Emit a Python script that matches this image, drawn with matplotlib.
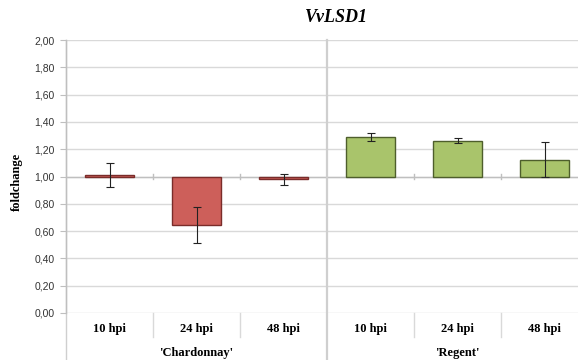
import matplotlib
matplotlib.use("Agg")
import matplotlib.pyplot as plt
from matplotlib.transforms import blended_transform_factory

# data
timepoints = ["10 hpi", "24 hpi", "48 hpi"]
cultivars = ["'Chardonnay'", "'Regent'"]
chardonnay = [1.01, 0.645, 0.98]
chardonnay_err = [0.09, 0.13, 0.04]
regent = [1.29, 1.263, 1.124]
regent_err = [0.03, 0.02, 0.13]
yticks = [0.0, 0.2, 0.4, 0.6, 0.8, 1.0, 1.2, 1.4, 1.6, 1.8, 2.0]

W, H = 578, 360
fig = plt.figure(figsize=(W / 100, H / 100), dpi=100)
# axis spans past the right border, the original is cropped there
x0, x1, ybot, ytop = 66, 588, 313, 40
ax = fig.add_axes([x0 / W, 1 - ybot / H, (x1 - x0) / W, (ybot - ytop) / H])

grid = "#d9d9d9"
for yv in yticks:
    ax.axhline(yv, color=grid, lw=1.0, zorder=0)

values = chardonnay + regent
errors = chardonnay_err + regent_err
xs = [i + 0.5 for i in range(len(values))]
fills = ["#cd5f5a"] * 3 + ["#a9c46b"] * 3
edges = ["#7a2c2a"] * 3 + ["#4e5e2c"] * 3
heights = [v - 1.0 for v in values]
ax.bar(xs, heights, bottom=1.0, width=0.56, color=fills, edgecolor=edges,
       linewidth=1.0, zorder=2)
ax.errorbar(xs, values, yerr=errors, fmt="none", ecolor="#222222",
            elinewidth=0.8, capsize=3, capthick=0.8, zorder=3)

# horizontal axis crosses at 1.0, with small tick marks
ax.axhline(1.0, color="#bfbfbf", lw=1.0, zorder=1)
for xt in [1, 2, 4, 5]:
    ax.plot([xt, xt], [0.985, 1.015], color="#bfbfbf", lw=1.0, zorder=1)

ax.set_xlim(0, 6)
ax.set_ylim(0, 2.0)
ax.set_yticks(yticks)
ax.set_yticklabels([("%.2f" % v).replace(".", ",") for v in yticks],
                   fontsize=7.5, family="Liberation Sans", color="#333333")
ax.tick_params(axis="y", length=4, color="#bfbfbf", pad=4)
ax.set_xticks([])
for s in ["top", "right", "bottom"]:
    ax.spines[s].set_visible(False)
ax.spines["left"].set_color("#bfbfbf")
ax.spines["left"].set_linewidth(1.0)

# category table below the axis
trans = blended_transform_factory(ax.transData, fig.transFigure)
for i, x in enumerate(xs):
    ax.text(x, 1 - 329 / H, timepoints[i % 3], transform=trans, ha="center",
            va="center", fontsize=9, fontweight="bold", family="Liberation Serif")
for j, name in enumerate(cultivars):
    ax.text(1.5 + 3 * j, 1 - 353 / H, name, transform=trans, ha="center",
            va="center", fontsize=9, fontweight="bold", family="Liberation Serif")
for xt in [1, 2, 4, 5]:
    ax.plot([xt, xt], [1 - ybot / H, 1 - 337 / H], transform=trans,
            color=grid, lw=1.0, clip_on=False)
for xt in [0, 3]:
    ax.plot([xt, xt], [1 - ytop / H, 0], transform=trans,
            color="#cfcfcf", lw=1.6 if xt == 3 else 1.0, clip_on=False, zorder=1)

fig.text(16.5 / W, 1 - 181.5 / H, "foldchange", rotation=90, ha="center",
         va="center", fontsize=9, fontweight="bold", family="Liberation Serif")
fig.text(336 / W, 1 - 17 / H, "VvLSD1", ha="center", va="center", fontsize=13,
         fontweight="bold", fontstyle="italic", family="Liberation Serif")

fig.savefig("out.png", dpi=100)
